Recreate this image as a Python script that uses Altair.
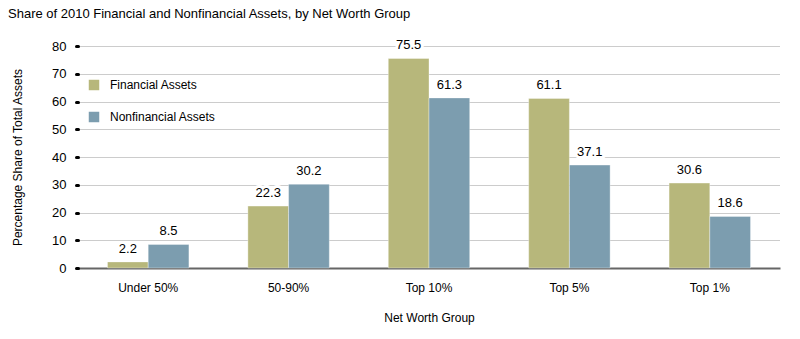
import altair as alt
import pandas as pd

groups = ["Under 50%", "50-90%", "Top 10%", "Top 5%", "Top 1%"]
series = ["Financial Assets", "Nonfinancial Assets"]
financial = [2.2, 22.3, 75.5, 61.1, 30.6]
nonfinancial = [8.5, 30.2, 61.3, 37.1, 18.6]
colors = ["#B7B77B", "#7C9DAF"]

rows = []
for g, f, n in zip(groups, financial, nonfinancial):
    rows.append({"group": g, "series": series[0], "value": f})
    rows.append({"group": g, "series": series[1], "value": n})
df = pd.DataFrame(rows)

FONT = "Liberation Sans"

x = alt.X("group:N", sort=groups, title="Net Worth Group",
          scale=alt.Scale(paddingInner=0.42, paddingOuter=0.21),
          axis=alt.Axis(labelAngle=0, ticks=False, domainColor="#666666", domainWidth=2,
                        labelPadding=14, titlePadding=19, labelFontSize=12, titleFontSize=12,
                        labelFont=FONT, titleFont=FONT, labelColor="#000", titleColor="#000",
                        titleFontWeight="normal"))
y = alt.Y("value:Q", title="Percentage Share of Total Assets",
          scale=alt.Scale(domain=[0, 80]),
          axis=alt.Axis(values=list(range(0, 81, 10)), domain=False, grid=True,
                        gridDash=[1, 1], gridColor="#999999", gridWidth=1,
                        tickColor="#000", tickSize=2, tickWidth=3, tickCap="round",
                        labelPadding=10, labelFontSize=13, titleFontSize=12,
                        labelFont=FONT, titleFont=FONT, labelColor="#000", titleColor="#000",
                        titleFontWeight="normal", titlePadding=27))
xo = alt.XOffset("series:N", sort=series)
color = alt.Color("series:N", sort=series, scale=alt.Scale(domain=series, range=colors),
                  legend=alt.Legend(title=None, orient="none", legendX=10, legendY=33,
                                    symbolType="square", symbolSize=110, symbolStrokeWidth=0,
                                    labelFont=FONT, labelFontSize=12, labelColor="#000",
                                    rowPadding=20, labelOffset=10, symbolOpacity=1))

base = alt.Chart(df)
bars = base.mark_bar(stroke="white", strokeOpacity=0.35, strokeWidth=1).encode(
    x=x, y=y, xOffset=xo, color=color)
halo = base.mark_text(baseline="bottom", dy=-6, font=FONT, fontSize=13,
                      stroke="white", strokeWidth=6, color="white").encode(
    x=x, y=y, xOffset=xo, text=alt.Text("value:Q", format=".1f"))
labels = base.mark_text(baseline="bottom", dy=-6, font=FONT, fontSize=13, color="#000").encode(
    x=x, y=y, xOffset=xo, text=alt.Text("value:Q", format=".1f"))

chart = alt.layer(bars, halo, labels).properties(
    width=702, height=222,
    title=alt.TitleParams("Share of 2010 Financial and Nonfinancial Assets, by Net Worth Group",
                          anchor="start", frame="group", dx=-70, font=FONT, fontSize=13,
                          fontWeight="normal", color="#000", offset=18),
    padding={"left": 78, "top": 46, "right": 20, "bottom": 71},
    autosize=alt.AutoSizeParams(type="none"),
).configure_view(stroke=None)

chart.save("out.html", embed_options={"renderer": "svg", "actions": False})
